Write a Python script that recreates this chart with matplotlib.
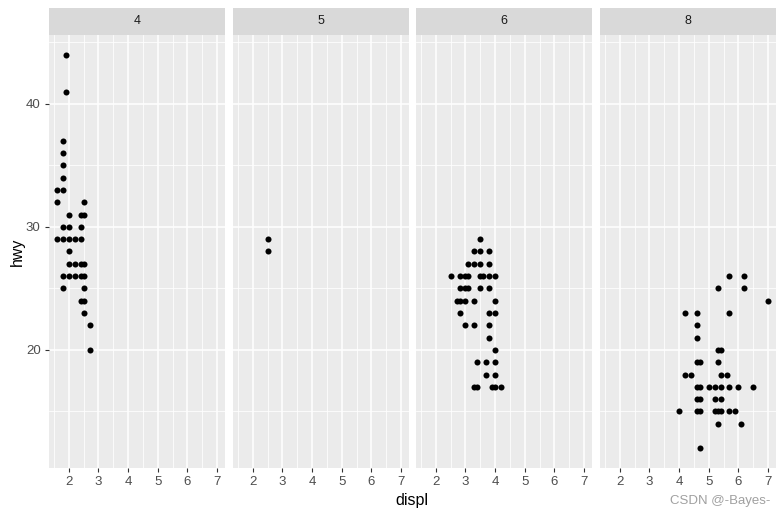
import matplotlib
matplotlib.use("Agg")
import matplotlib.pyplot as plt
from matplotlib.ticker import FixedLocator

plt.rcParams['font.family'] = ['Liberation Sans', 'DejaVu Sans']

# facet values (cyl) and the points
cyl_levels = [4, 5, 6, 8]

displ_4 = [1.9, 1.9, 1.8, 1.8, 1.8, 1.8, 1.6, 1.8, 1.6, 2.5, 2.0, 2.4, 2.5,
           1.8, 2.0, 2.4, 1.6, 1.8, 2.0, 2.2, 2.4, 2.0, 2.0, 2.2, 2.4, 2.5,
           1.8, 2.0, 2.2, 2.4, 2.5, 1.8, 2.5, 2.4, 2.5, 2.5, 2.7, 2.7]
hwy_4 = [44, 41, 37, 36, 35, 34, 33, 33, 32, 32, 31, 31, 31,
         30, 30, 30, 29, 29, 29, 29, 29, 28, 27, 27, 27, 27,
         26, 26, 26, 26, 26, 25, 25, 24, 24, 23, 22, 20]

displ_5 = [2.5, 2.5]
hwy_5 = [29, 28]

displ_6 = [3.5, 3.3, 3.5, 3.8, 3.1, 3.3, 3.5, 3.8,
           2.5, 2.8, 3.0, 3.1, 3.5, 3.6, 3.8, 4.0,
           2.8, 3.0, 3.1, 3.5, 3.8, 2.7, 2.8, 3.0, 3.3, 4.0,
           2.8, 3.8, 4.0, 3.0, 3.3, 3.8, 3.8, 4.0,
           3.4, 3.7, 4.0, 3.7, 4.0, 3.3, 3.4, 3.9, 4.0, 4.2]
hwy_6 = [29, 28, 28, 28, 27, 27, 27, 27,
         26, 26, 26, 26, 26, 26, 26, 26,
         25, 25, 25, 25, 25, 24, 24, 24, 24, 24,
         23, 23, 23, 22, 22, 22, 21, 20,
         19, 19, 19, 18, 18, 17, 17, 17, 17, 17]

displ_8 = [5.7, 6.2, 5.3, 6.2, 7.0, 4.2, 4.6, 5.7, 4.6, 4.6, 5.3, 5.4,
           4.6, 4.7, 5.3, 4.2, 4.4, 5.4, 5.6,
           4.6, 4.7, 5.0, 5.2, 5.4, 5.7, 6.0, 6.5,
           4.6, 4.7, 5.2, 5.4,
           4.0, 4.6, 4.7, 5.2, 5.3, 5.4, 5.7, 5.9,
           5.3, 6.1, 4.7]
hwy_8 = [26, 26, 25, 25, 24, 23, 23, 23, 22, 21, 20, 20,
         19, 19, 19, 18, 18, 18, 18,
         17, 17, 17, 17, 17, 17, 17, 17,
         16, 16, 16, 16,
         15, 15, 15, 15, 15, 15, 15, 15,
         14, 14, 12]

panels = {4: (displ_4, hwy_4), 5: (displ_5, hwy_5),
          6: (displ_6, hwy_6), 8: (displ_8, hwy_8)}

x_major = [2, 3, 4, 5, 6, 7]
x_minor = [1.5, 2.5, 3.5, 4.5, 5.5, 6.5]
y_major = [20, 30, 40]
y_minor = [15, 25, 35, 45]

W, H = 784, 518
fig = plt.figure(figsize=(W / 100, H / 100), dpi=100)

panel_left = [49, 233, 416, 600]
panel_w = 176
top, bottom = 35, 468
strip_top = 8

for i, cyl in enumerate(cyl_levels):
    x0 = panel_left[i]
    ax = fig.add_axes([x0 / W, 1 - bottom / H, panel_w / W, (bottom - top) / H])
    ax.set_facecolor("#EBEBEB")
    for s in ax.spines.values():
        s.set_visible(False)
    ax.set_xlim(1.33, 7.27)
    ax.set_ylim(10.4, 45.6)
    ax.xaxis.set_major_locator(FixedLocator(x_major))
    ax.xaxis.set_minor_locator(FixedLocator(x_minor))
    ax.yaxis.set_major_locator(FixedLocator(y_major))
    ax.yaxis.set_minor_locator(FixedLocator(y_minor))
    ax.grid(True, which="major", color="white", linewidth=1.1)
    ax.grid(True, which="minor", color="white", linewidth=0.55)
    ax.set_axisbelow(True)
    ax.tick_params(which="minor", length=0)
    ax.tick_params(which="major", length=3, width=0.8, color="#333333",
                   labelcolor="#4D4D4D", labelsize=9.5, pad=3)
    if i > 0:
        ax.tick_params(axis="y", which="major", length=0, labelleft=False)

    xs, ys = panels[cyl]
    ax.scatter(xs, ys, s=19, color="black", linewidths=0, zorder=3)

    # facet strip
    sax = fig.add_axes([x0 / W, 1 - top / H, panel_w / W, (top - strip_top) / H])
    sax.set_facecolor("#D9D9D9")
    sax.set_xticks([])
    sax.set_yticks([])
    for s in sax.spines.values():
        s.set_visible(False)
    sax.text(0.5, 0.5, str(cyl), ha="center", va="center",
             fontsize=9, color="#1A1A1A", transform=sax.transAxes)

fig.text(412 / W, 1 - 501 / H, "displ", ha="center", va="center", fontsize=11.5)
fig.text(17 / W, 1 - 252 / H, "hwy", ha="center", va="center", fontsize=11.5,
         rotation=90)
fig.text(770 / W, 1 - 501 / H, "CSDN @-Bayes-", ha="right", va="center",
         fontsize=9.5, color="#A0A0A0")

fig.savefig("out.png", dpi=100)
